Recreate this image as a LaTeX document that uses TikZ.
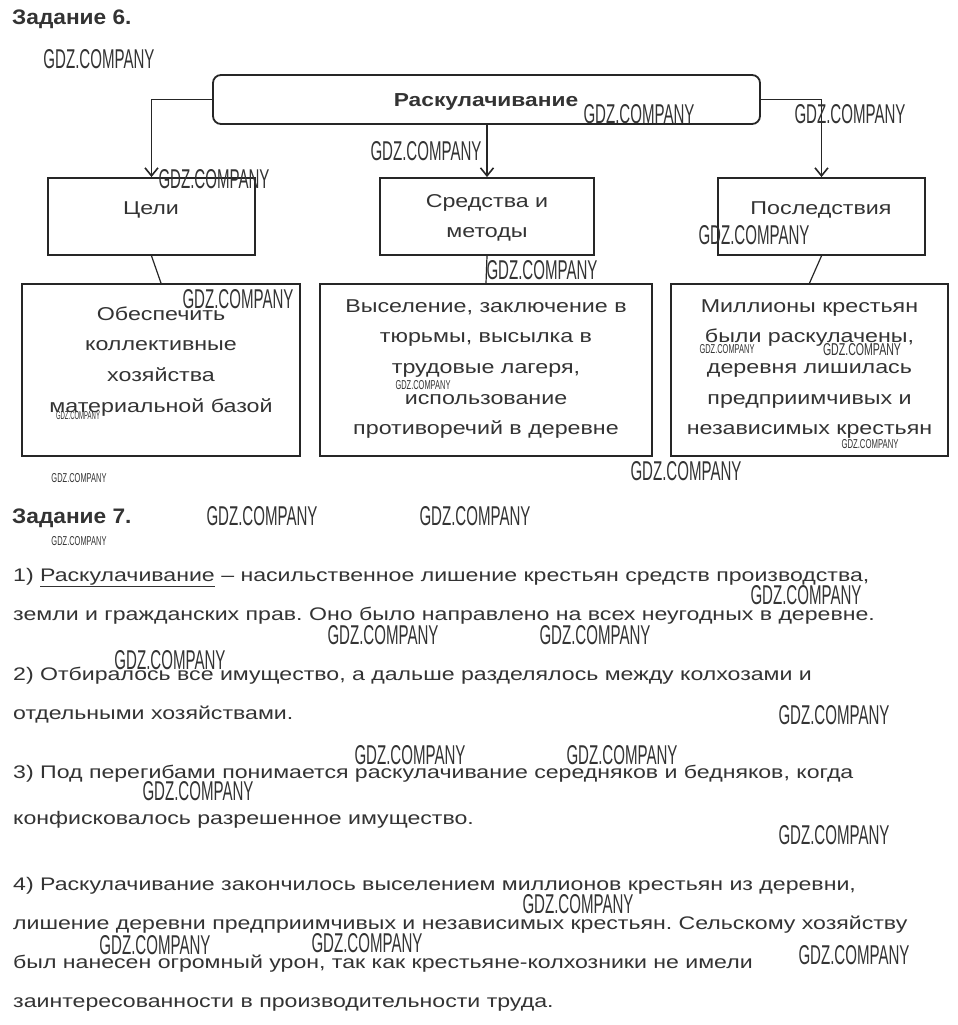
\documentclass[tikz,border=0pt]{standalone}
\usepackage{fontspec}
\setmainfont{Liberation Sans}
\newfontfamily\bodyf[FakeStretch=1.25]{Liberation Sans}
\newfontfamily\parf[FakeStretch=1.27]{Liberation Sans}
\newfontfamily\headf[FakeStretch=1.08]{Liberation Sans}
\newfontfamily\titlef[FakeStretch=1.21]{Liberation Sans}
\usepackage{graphicx}
\usetikzlibrary{arrows.meta}
\frenchspacing
\definecolor{txt}{HTML}{333333}
\definecolor{ln}{HTML}{262626}
\newcommand\wmark[5]{\node[wm] (#1) at (#2,#3) {\resizebox{#4pt}{#5pt}{GDZ.COMPANY}};}
\begin{document}
\begin{tikzpicture}[x=1pt,y=-1pt,
  frame/.style={draw=ln,line width=1.8pt,inner sep=0pt},
  arr/.style={draw=ln,line width=1.6pt,-{Straight Barb[length=8pt,width=13pt,line width=1.6pt]}},
  conn/.style={draw=ln,line width=1.2pt},
  head/.style={anchor=base west,inner sep=0pt,text=txt,font=\headf\fontsize{21}{24}\selectfont\bfseries},
  btxt/.style={anchor=base,inner sep=0pt,text=txt,font=\bodyf\fontsize{18.6}{24}\selectfont},
  ptxt/.style={anchor=base west,inner sep=0pt,text=txt,font=\parf\fontsize{18.2}{24}\selectfont},
  wm/.style={inner sep=0pt,text=txt}]
\path[use as bounding box,fill=white] (0,0) rectangle (958,1025);

\node[head] (h6) at (12,25) {Задание 6.};

% top box
\node[frame,rounded corners=8pt,minimum width=547pt,minimum height=49pt] (top) at (486.5,99.5) {};
\node[anchor=base,inner sep=0pt,text=txt,font=\titlef\fontsize{18.8}{24}\selectfont\bfseries] (toptxt) at (486,106) {Раскулачивание};

% second row
\node[frame,minimum width=207pt,minimum height=77pt] (cel) at (151.5,216.5) {};
\node[frame,minimum width=214pt,minimum height=77pt] (sred) at (487,216.5) {};
\node[frame,minimum width=207pt,minimum height=77pt] (posl) at (821.5,216.5) {};
\node[btxt] (celt) at (151,214) {Цели};
\node[btxt] (sredt1) at (487,207) {Средства и};
\node[btxt] (sredt2) at (487,237) {методы};
\node[btxt] (poslt) at (821,214) {Последствия};

\draw[arr] (top.west) -| (cel.north);
\draw[arr] (sred.north |- top.south) -- (sred.north);
\draw[arr] (top.east) -| (posl.north);

% third row
\node[frame,minimum width=278pt,minimum height=172pt] (ob) at (161,370) {};
\node[frame,minimum width=332pt,minimum height=172pt] (vys) at (486,370) {};
\node[frame,minimum width=277pt,minimum height=172pt] (mil) at (809.5,370) {};
\draw[conn] (cel.south) -- (ob.north);
\draw[conn] (sred.south) -- (vys.north);
\draw[conn] (posl.south) -- (mil.north);

\foreach \t [count=\i] in {Обеспечить, коллективные, хозяйства, материальной базой}
  \node[btxt] (obt\i) at (161,{320+(\i-1)*30.7}) {\t};
\foreach \t [count=\i] in {{Выселение, заключение в}, {тюрьмы, высылка в}, {трудовые лагеря,}, использование, противоречий в деревне}
  \node[btxt] (vyst\i) at (486,{312+(\i-1)*30.7}) {\t};
\foreach \t [count=\i] in {Миллионы крестьян, {были раскулачены,}, деревня лишилась, предприимчивых и, независимых крестьян}
  \node[btxt] (milt\i) at (809.5,{312+(\i-1)*30.7}) {\t};

% task 7
\node[head] (h7) at (12,523) {Задание 7.};
\node[ptxt] (p1) at (13,581) {1) \underline{Раскулачивание} – насильственное лишение крестьян средств производства,};
\node[ptxt] (p2) at (13,620) {земли и гражданских прав. Оно было направлено на всех неугодных в деревне.};
\node[ptxt] (p3) at (13,680) {2) Отбиралось все имущество, а дальше разделялось между колхозами и};
\node[ptxt] (p4) at (13,719) {отдельными хозяйствами.};
\node[ptxt] (p5) at (13,778) {3) Под перегибами понимается раскулачивание середняков и бедняков, когда};
\node[ptxt] (p6) at (13,824) {конфисковалось разрешенное имущество.};
\node[ptxt] (p7) at (13,890) {4) Раскулачивание закончилось выселением миллионов крестьян из деревни,};
\node[ptxt] (p8) at (13,929) {лишение деревни предприимчивых и независимых крестьян. Сельскому хозяйству};
\node[ptxt] (p9) at (13,968) {был нанесен огромный урон, так как крестьяне-колхозники не имели};
\node[ptxt] (p10) at (13,1007) {заинтересованности в производительности труда.};

% watermarks
\wmark{w1}{99}{59}{111}{19}
\wmark{w2}{639}{114}{111}{19}
\wmark{w3}{850}{114}{111}{19}
\wmark{w4}{426}{151}{111}{19}
\wmark{w5}{214}{179}{111}{19}
\wmark{w6}{754}{235}{111}{19}
\wmark{w7}{542}{270}{111}{19}
\wmark{w8}{238}{299}{111}{19}
\wmark{w9}{686}{471}{111}{19}
\wmark{w10}{262}{516}{111}{19}
\wmark{w11}{475}{516}{111}{19}
\wmark{w12}{806}{595}{111}{19}
\wmark{w13}{383}{635}{111}{19}
\wmark{w14}{595}{635}{111}{19}
\wmark{w15}{170}{660}{111}{19}
\wmark{w16}{834}{715}{111}{19}
\wmark{w17}{410}{755}{111}{19}
\wmark{w18}{622}{755}{111}{19}
\wmark{w19}{198}{791}{111}{19}
\wmark{w20}{834}{835}{111}{19}
\wmark{w21}{578}{904}{111}{19}
\wmark{w22}{155}{945}{111}{19}
\wmark{w23}{367}{943}{111}{19}
\wmark{w24}{854}{955}{111}{19}
\wmark{s1}{79}{478}{55}{9}
\wmark{s2}{78}{416}{44}{8}
\wmark{s3}{423}{385}{55}{9}
\wmark{s4}{727}{349}{55}{9}
\wmark{s5}{862}{350}{78}{12}
\wmark{s6}{870}{444}{57}{9}
\wmark{s7}{79}{541}{55}{9}
\end{tikzpicture}
\end{document}
